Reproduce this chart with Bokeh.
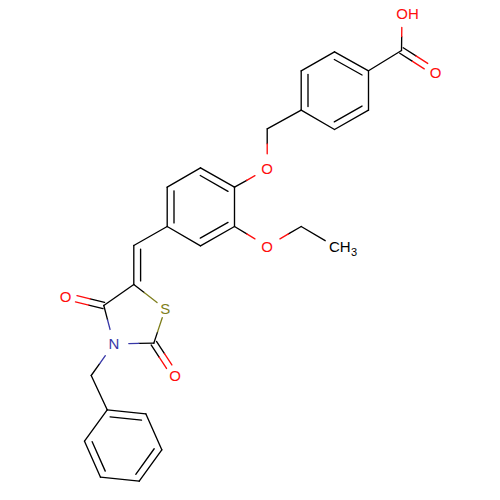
from bokeh.plotting import figure
from bokeh.embed import file_html
from bokeh.resources import INLINE
from bokeh.core.properties import value
import math

RED = "#ff0d0d"
BLUE = "#3838a8"
OLIVE = "#808020"
BLACK = "#000000"

# atom positions in the depiction
atom_names = ["a1","a2","a3","a4","a5","a6","cooh","oh","oco","ch2","o1",
              "b1","b2","b3","b4","b5","b6","oet","et1","et2","ch","c5","s","c2","n","c4","o4","o2","bn",
              "c1","c2p","c3p","c4p","c5p","c6p"]
atom_x = [300.7,334,368,368,334,300.7,401,401.5,435,266.7,266.7,
          234,200,166.7,166.7,200,234,266.7,300.7,334,133.3,133.3,164.7,153.3,113.3,103.3,65,174.7,90.7,
          106.7,145.3,161.3,138.7,100,84]
atom_y = [70.3,51.3,70.3,109.7,129,109.7,50,13,71.7,128.3,168.3,
          186.7,167.3,186.7,226,245.3,226,245.7,226,245.7,245,284,308.3,342.7,343.3,305,295.7,375.3,375,
          409.3,413.3,449.3,480.7,476.7,440.7]
pos = dict(zip(atom_names, zip(atom_x, atom_y)))

single_bonds = [("a1","a2"),("a3","a4"),("a5","a6"),("a3","cooh"),("a6","ch2"),
                ("b2","b3"),("b4","b5"),("b6","b1"),("b4","ch"),
                ("bn","c1"),("c2p","c3p"),("c4p","c5p"),("c6p","c1"),("c5","c4")]
ring_double = [("a2","a3","a"),("a4","a5","a"),("a6","a1","a"),
               ("b1","b2","b"),("b3","b4","b"),("b5","b6","b"),
               ("c1","c2p","p"),("c3p","c4p","p"),("c5p","c6p","p"),
               ("ch","c5","x")]
hetero_single = [("cooh","oh",RED),("ch2","o1",RED),("b1","o1",RED),("b6","oet",RED),("et1","oet",RED),
                 ("c5","s",OLIVE),("c2","s",OLIVE),("c2","n",BLUE),("c4","n",BLUE),("bn","n",BLUE)]
hetero_double = [("cooh","oco",RED),("c4","o4",RED),("c2","o2",RED)]
oxygen_atoms = ["oh","oco","o1","oet","o4","o2"]

p = figure(width=490, height=490, x_range=(0,490), y_range=(490,0), output_backend="svg",
           toolbar_location=None, min_border=0, outline_line_color=None, background_fill_color="white")
p.axis.visible = False
p.grid.visible = False
LW = 1.35

def seg(x0,y0,x1,y1,c):
    p.line([x0,x1],[y0,y1],line_color=c,line_width=LW,line_cap="round")

centers = {}
for key, group in {"a":["a1","a2","a3","a4","a5","a6"],"b":["b1","b2","b3","b4","b5","b6"],
                   "p":["c1","c2p","c3p","c4p","c5p","c6p"]}.items():
    centers[key] = (sum(pos[g][0] for g in group)/6, sum(pos[g][1] for g in group)/6)
centers["x"] = (200,265)

for a,b in single_bonds:
    seg(*pos[a],*pos[b],BLACK)

for a,b,k in ring_double:
    (x0,y0),(x1,y1) = pos[a],pos[b]
    seg(x0,y0,x1,y1,BLACK)
    dx,dy = x1-x0,y1-y0
    L = math.hypot(dx,dy); ux,uy = dx/L,dy/L
    nx,ny = -uy,ux
    cx,cy = centers[k]
    if (cx-x0)*nx+(cy-y0)*ny < 0:
        nx,ny = -nx,-ny
    off, sh = 6.8, 3.6
    seg(x0+nx*off+ux*sh, y0+ny*off+uy*sh, x1+nx*off-ux*sh, y1+ny*off-uy*sh, BLACK)

for a,b,c in hetero_single:
    (x0,y0),(x1,y1) = pos[a],pos[b]
    split = 0.33 if c==OLIVE else 0.375
    end = 0.74 if c==OLIVE else 0.625
    xm,ym = x0+(x1-x0)*split, y0+(y1-y0)*split
    xe,ye = x0+(x1-x0)*end, y0+(y1-y0)*end
    seg(x0,y0,xm,ym,BLACK)
    seg(xm,ym,xe,ye,c)

for a,b,c in hetero_double:
    (x0,y0),(x1,y1) = pos[a],pos[b]
    dx,dy = x1-x0,y1-y0
    L = math.hypot(dx,dy); ux,uy = dx/L,dy/L
    nx,ny = -uy,ux
    for s in (-3.2,3.2):
        xa,ya = x0+nx*s,y0+ny*s
        xm,ym = xa+dx*0.375,ya+dy*0.375
        xe,ye = xa+dx*0.72,ya+dy*0.72
        seg(xa,ya,xm,ym,BLACK)
        seg(xm,ym,xe,ye,c)

# bond to the CH3 label
(x0,y0),(x1,y1) = pos["et1"],pos["et2"]
seg(x0,y0,x0+(x1-x0)*0.72,y0+(y1-y0)*0.72,BLACK)

def txt(x,y,t,c,size="15px",align="center"):
    p.text([x],[y],text=[t],text_color=c,text_font=value("Liberation Sans"),text_font_size=size,
           text_align=align,text_baseline="middle")

for n in oxygen_atoms:
    txt(pos[n][0],pos[n][1],"O",RED)
txt(*pos["s"],"S",OLIVE)
txt(*pos["n"],"N",BLUE)
txt(407.5,13,"H",RED,align="left")
txt(328.5,246,"CH",BLACK,align="left")
txt(350.5,251,"3",BLACK,"11px",align="left")

open("out.html","w").write(file_html(p, INLINE))
